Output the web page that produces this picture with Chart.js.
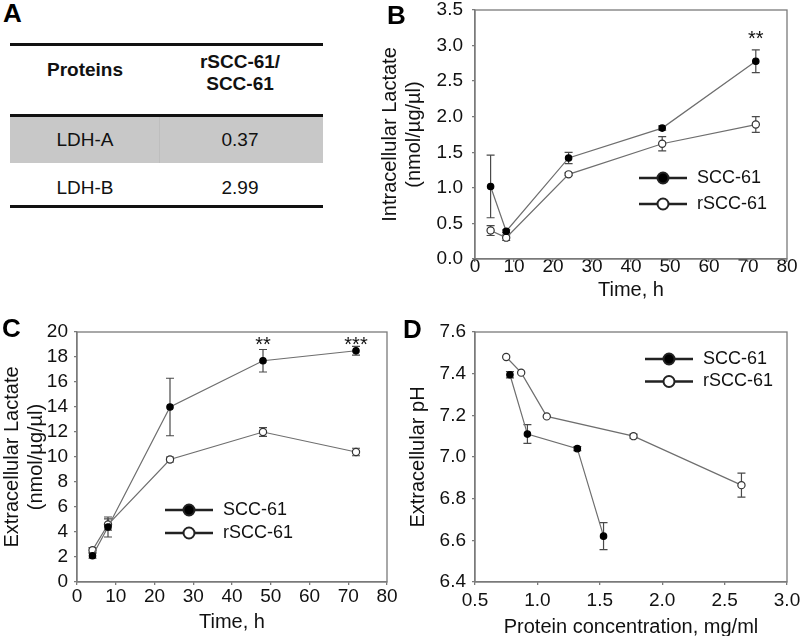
<!DOCTYPE html>
<html>
<head>
<meta charset="utf-8">
<script src="https://cdn.jsdelivr.net/npm/chart.js@4"></script>
<style>
  html, body { margin: 0; padding: 0; background: #fff; overflow: hidden; width: 800px; height: 636px; }
  canvas { position: absolute; }
  .letter { position: absolute; font: bold 26px "Liberation Sans", Arial, sans-serif; line-height: 26px; color: #000; }
  .rule { position: absolute; left: 10px; width: 313px; height: 3px; background: #111; }
  .band { position: absolute; left: 10px; width: 313px; top: 117px; height: 46px; background: #c8c8c8; }
  .cell { position: absolute; width: 150px; margin-left: -75px; text-align: center;
          font: 19px "Liberation Sans", Arial, sans-serif; line-height: 22px; color: #111; }
  .hdr { font-weight: bold; }
</style>
</head>
<body>

<!-- Panel A: table -->
<div class="rule" style="top:43px"></div>
<div class="cell hdr" style="left:85px;top:59px">Proteins</div>
<div class="cell hdr" style="left:240px;top:51px">rSCC-61/<br>SCC-61</div>
<div class="band"></div>
<div style="position:absolute;left:159px;top:117px;width:1px;height:46px;background:#bebebe"></div>
<div class="rule" style="top:114px"></div>
<div class="cell" style="left:85px;top:129px">LDH-A</div>
<div class="cell" style="left:240px;top:129px">0.37</div>
<div class="cell" style="left:85px;top:177px">LDH-B</div>
<div class="cell" style="left:240px;top:177px">2.99</div>
<div class="rule" style="top:205px"></div>

<canvas id="chartB" width="422" height="302" style="left:378px;top:0"></canvas>
<canvas id="chartC" width="400" height="332" style="left:0;top:302px"></canvas>
<canvas id="chartD" width="400" height="337" style="left:400px;top:302px"></canvas>

<div class="letter" style="left:3px;top:0">A</div>
<div class="letter" style="left:387px;top:2px">B</div>
<div class="letter" style="left:2px;top:315px">C</div>
<div class="letter" style="left:403px;top:316px">D</div>

<script>
// ===== Data =====
const seriesNames = ['SCC-61', 'rSCC-61'];
const timeH = [4, 8, 24, 48, 72];

// B: intracellular lactate
const bScc = [1.02, 0.39, 1.42, 1.84, 2.78];
const bSccErr = [0.44, 0.02, 0.08, 0.03, 0.16];
const bRscc = [0.40, 0.30, 1.19, 1.62, 1.89];
const bRsccErr = [0.07, 0.04, 0.02, 0.10, 0.11];
const bTicksX = [0, 10, 20, 30, 40, 50, 60, 70, 80];
const bTicksY = [0, 0.5, 1.0, 1.5, 2.0, 2.5, 3.0, 3.5];
const bStars = [{ x: 72, y: 3.09, text: '**' }];

// C: extracellular lactate
const cScc = [2.1, 4.4, 14.0, 17.7, 18.5];
const cSccErr = [0.2, 0.8, 2.3, 0.9, 0.35];
const cRscc = [2.55, 4.6, 9.8, 12.0, 10.4];
const cRsccErr = [0.2, 0.45, 0.2, 0.35, 0.3];
const cTicksX = [0, 10, 20, 30, 40, 50, 60, 70, 80];
const cTicksY = [0, 2, 4, 6, 8, 10, 12, 14, 16, 18, 20];
const cStars = [{ x: 48, y: 18.9, text: '**' }, { x: 72, y: 18.9, text: '***' }];

// D: extracellular pH vs protein concentration
const dSccProt = [0.78, 0.92, 1.32, 1.53];
const dSccPh = [7.395, 7.11, 7.04, 6.62];
const dSccErr = [0.015, 0.045, 0.01, 0.065];
const dRsccProt = [0.75, 0.87, 1.075, 1.77, 2.635];
const dRsccPh = [7.48, 7.405, 7.195, 7.10, 6.865];
const dRsccErr = [0, 0, 0, 0.01, 0.058];
const dTicksX = [0.5, 1.0, 1.5, 2.0, 2.5, 3.0];
const dTicksY = [6.4, 6.6, 6.8, 7.0, 7.2, 7.4, 7.6];

// ===== Styling helpers =====
const axisColor = '#7a7a7a';
const lineColor = '#6e6e6e';
const textColor = '#111';
const fontFamily = 'Liberation Sans';

function pts(xs, ys) {
  return xs.map((x, i) => ({ x: x, y: ys[i] }));
}

function series(label, data, filled) {
  return {
    label: label,
    data: data,
    showLine: true,
    borderColor: lineColor,
    borderWidth: 1.2,
    pointRadius: filled ? 3.2 : 3.6,
    pointBackgroundColor: filled ? '#000' : '#fff',
    pointBorderColor: filled ? '#000' : '#333',
    pointBorderWidth: 1.2
  };
}

function axis(o) {
  return {
    type: 'linear',
    min: o.ticks[0],
    max: o.ticks[o.ticks.length - 1],
    afterBuildTicks: scale => { scale.ticks = o.ticks.map(v => ({ value: v })); },
    afterFit: scale => {
      if (scale.isHorizontal()) scale.height = o.size; else scale.width = o.size;
      scale.paddingLeft = scale.paddingRight = scale.paddingTop = scale.paddingBottom = 0;
    },
    grid: { drawOnChartArea: false, drawTicks: true, tickLength: 3, color: axisColor, lineWidth: 1.3 },
    border: { color: axisColor, width: 1.3 },
    ticks: {
      autoSkip: false, maxRotation: 0, padding: o.pad, color: textColor,
      font: { family: fontFamily, size: 19, lineHeight: '10px' },
      callback: v => v.toFixed(o.digits)
    },
    title: {
      display: true, text: o.title, color: textColor,
      font: { family: fontFamily, size: 20, lineHeight: '24px' },
      padding: o.titlePad || { top: 0, bottom: 0 }
    }
  };
}

// frame around the plot area
const framePlugin = {
  id: 'frame',
  beforeDatasetsDraw(chart) {
    const { ctx, chartArea: a } = chart;
    ctx.save();
    ctx.strokeStyle = axisColor;
    ctx.lineWidth = 1.3;
    ctx.strokeRect(a.left, a.top, a.right - a.left, a.bottom - a.top);
    ctx.restore();
  }
};

function errorBars(errs) {
  return {
    id: 'errorBars',
    beforeDatasetsDraw(chart) {
      const { ctx, scales: { x, y } } = chart;
      ctx.save();
      ctx.strokeStyle = '#4a4a4a';
      ctx.lineWidth = 1.2;
      chart.data.datasets.forEach((ds, i) => {
        ds.data.forEach((p, j) => {
          const e = errs[i][j];
          if (!e) return;
          const px = x.getPixelForValue(p.x);
          const y1 = y.getPixelForValue(p.y + e);
          const y2 = y.getPixelForValue(p.y - e);
          ctx.beginPath();
          ctx.moveTo(px, y1); ctx.lineTo(px, y2);
          ctx.moveTo(px - 4, y1); ctx.lineTo(px + 4, y1);
          ctx.moveTo(px - 4, y2); ctx.lineTo(px + 4, y2);
          ctx.stroke();
        });
      });
      ctx.restore();
    }
  };
}

function stars(list) {
  return {
    id: 'stars',
    afterDraw(chart) {
      const { ctx, scales: { x, y } } = chart;
      ctx.save();
      ctx.fillStyle = textColor;
      ctx.font = '20px "' + fontFamily + '"';
      ctx.textAlign = 'center';
      ctx.textBaseline = 'middle';
      list.forEach(s => ctx.fillText(s.text, x.getPixelForValue(s.x), y.getPixelForValue(s.y)));
      ctx.restore();
    }
  };
}

// legend drawn as line + marker + text, placed inside the plot area
function lineLegend(pos) {
  return {
    id: 'lineLegend',
    afterDraw(chart) {
      const { ctx, chartArea: a } = chart;
      chart.data.datasets.forEach((ds, i) => {
        const lx = a.left + pos.left;
        const ly = a.top + pos.top + i * pos.gap;
        ctx.save();
        ctx.strokeStyle = '#222';
        ctx.lineWidth = 2.5;
        ctx.beginPath(); ctx.moveTo(lx, ly); ctx.lineTo(lx + 48, ly); ctx.stroke();
        ctx.beginPath(); ctx.arc(lx + 24, ly, 5.5, 0, Math.PI * 2);
        ctx.fillStyle = ds.pointBackgroundColor;
        ctx.fill();
        ctx.lineWidth = 2;
        ctx.stroke();
        ctx.fillStyle = textColor;
        ctx.font = '18px "' + fontFamily + '"';
        ctx.textBaseline = 'middle';
        ctx.fillText(ds.label, lx + 58, ly);
        ctx.restore();
      });
    }
  };
}

function buildChart(id, o) {
  return new Chart(document.getElementById(id), {
    type: 'scatter',
    data: { datasets: o.datasets },
    options: {
      responsive: false,
      animation: false,
      layout: { padding: o.padding },
      plugins: { legend: { display: false }, tooltip: { enabled: false } },
      scales: { x: axis(o.x), y: axis(o.y) }
    },
    plugins: [framePlugin, errorBars(o.errors), stars(o.stars || []), lineLegend(o.legend)]
  });
}

// ===== Panel B =====
buildChart('chartB', {
  datasets: [series(seriesNames[0], pts(timeH, bScc), true), series(seriesNames[1], pts(timeH, bRscc), false)],
  errors: [bSccErr, bRsccErr],
  stars: bStars,
  padding: { left: 0, right: 13, top: 10, bottom: 0 },
  x: { ticks: bTicksX, size: 43, pad: 0, digits: 0, title: 'Time, h' },
  y: { ticks: bTicksY, size: 97, pad: 9, digits: 1, title: ['Intracellular Lactate', '(nmol/µg/µl)'] },
  legend: { left: 164, top: 168, gap: 26 }
});

// ===== Panel C =====
buildChart('chartC', {
  datasets: [series(seriesNames[0], pts(timeH, cScc), true), series(seriesNames[1], pts(timeH, cRscc), false)],
  errors: [cSccErr, cRsccErr],
  stars: cStars,
  padding: { left: 0, right: 13, top: 30, bottom: 0 },
  x: { ticks: cTicksX, size: 52, pad: 7, digits: 0, title: 'Time, h' },
  y: { ticks: cTicksY, size: 77, pad: 6, digits: 0, title: ['Extracellular Lactate', '(nmol/µg/µl)'] },
  legend: { left: 88, top: 178, gap: 23 }
});

// ===== Panel D =====
buildChart('chartD', {
  datasets: [series(seriesNames[0], pts(dSccProt, dSccPh), true), series(seriesNames[1], pts(dRsccProt, dRsccPh), false)],
  errors: [dSccErr, dRsccErr],
  padding: { left: 0, right: 13, top: 30, bottom: 0 },
  x: { ticks: dTicksX, size: 57, pad: 11, digits: 1, title: 'Protein concentration, mg/ml' },
  y: { ticks: dTicksY, size: 75, pad: 6, digits: 1, title: 'Extracellular pH', titlePad: { top: 6, bottom: 0 } },
  legend: { left: 170, top: 27, gap: 22.5 }
});
</script>
</body>
</html>
